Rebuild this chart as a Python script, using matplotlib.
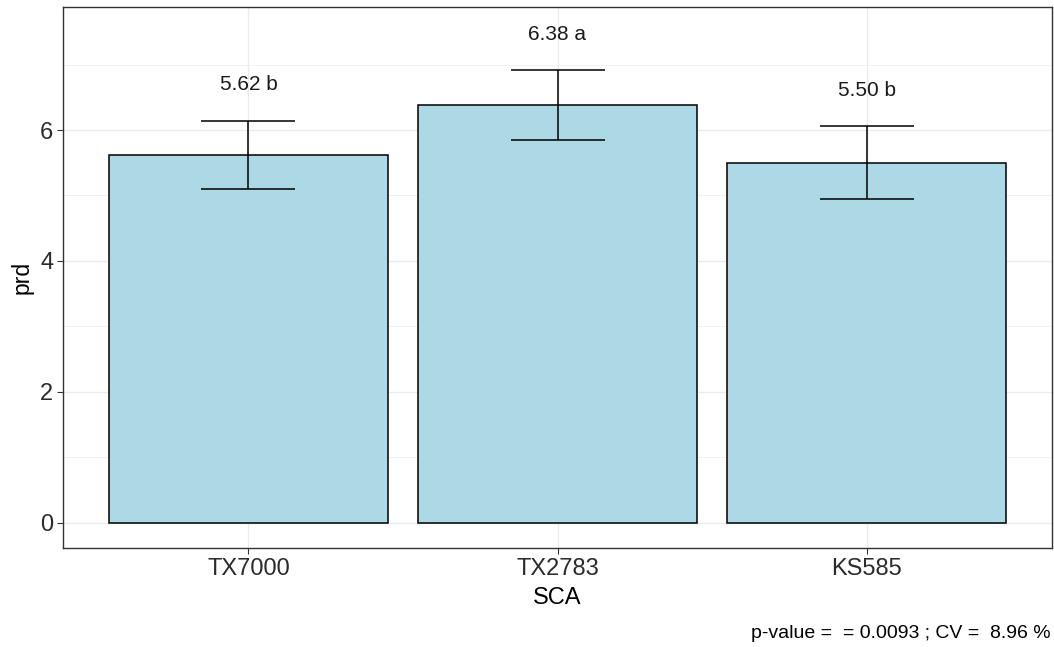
import matplotlib.pyplot as plt
from matplotlib.ticker import MultipleLocator

plt.rcParams['font.family'] = ['Liberation Sans', 'DejaVu Sans']

categories = ['TX7000', 'TX2783', 'KS585']
means = [5.62, 6.38, 5.50]
sds = [0.52, 0.53, 0.56]
groups = ['b', 'a', 'b']
caption = 'p-value =  = 0.0093 ; CV =  8.96 %'

fig = plt.figure(figsize=(10.54, 6.47), dpi=100)
ax = fig.add_axes([63 / 1054, 1 - 548 / 647, 989 / 1054, 541 / 647])

x = range(len(categories))
ax.bar(x, means, width=0.9, color='#ADD8E6', edgecolor='black', linewidth=1.1, zorder=2)
ax.errorbar(x, means, yerr=sds, fmt='none', ecolor='black', elinewidth=1.1,
            capsize=34, capthick=1.1, zorder=3)
for i, (m, s, g) in enumerate(zip(means, sds, groups)):
    ax.text(i, m + s + 0.55, f'{m:.2f} {g}', ha='center', va='center',
            fontsize=15, color='#1a1a1a')

ax.set_xlim(-0.6, 2.6)
ax.set_ylim(-0.382, 7.878)
ax.set_xticks(list(x))
ax.set_xticklabels(categories)
ax.yaxis.set_major_locator(MultipleLocator(2))
ax.yaxis.set_minor_locator(MultipleLocator(1))
ax.grid(True, which='major', color='#EBEBEB', linewidth=1.0, zorder=0)
ax.grid(True, which='minor', axis='y', color='#EBEBEB', linewidth=0.5, zorder=0)
ax.set_axisbelow(True)
ax.tick_params(axis='both', which='major', labelsize=17, labelcolor='#2b2b2b',
               color='#333333', length=4, pad=3)
ax.tick_params(axis='y', which='minor', length=0)
for sp in ax.spines.values():
    sp.set_color('#333333')
    sp.set_linewidth(1.0)

ax.set_xlabel('SCA', fontsize=17, labelpad=5)
ax.set_ylabel('prd', fontsize=16.5, labelpad=5)
fig.text(1051 / 1054, 1 - 634 / 647, caption, ha='right', va='center', fontsize=14)

fig.savefig('out.png', dpi=100)
